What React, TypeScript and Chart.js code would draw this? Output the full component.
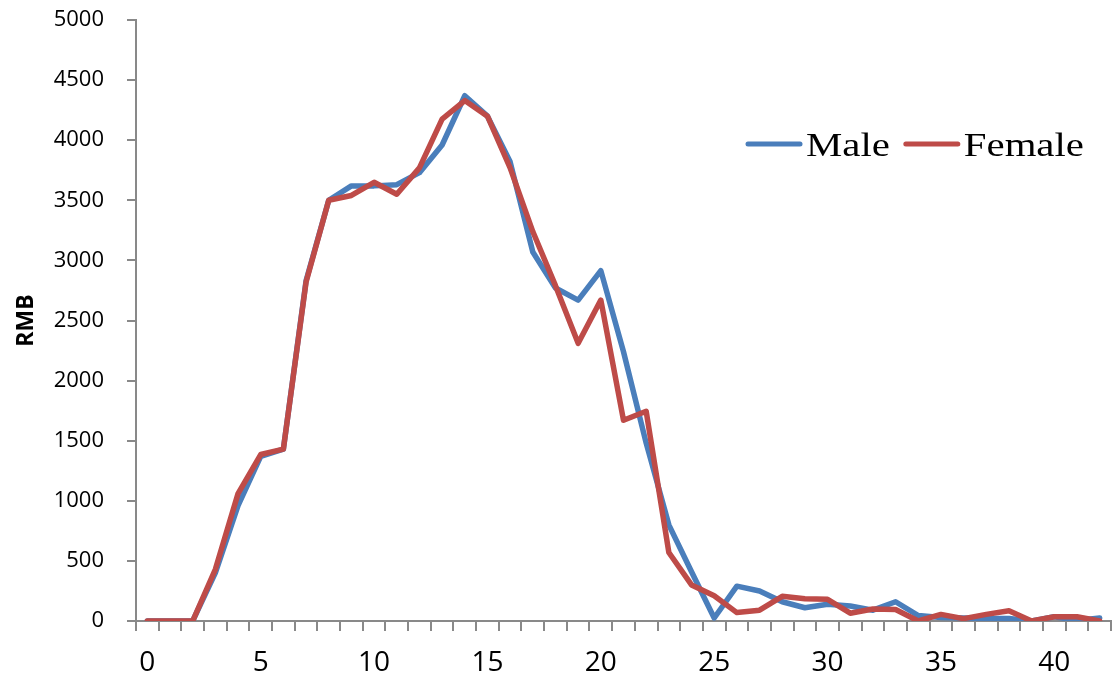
import React, { useEffect, useRef } from "react";
import { Chart, registerables } from "chart.js";

Chart.register(...registerables);

const ages = [
  "0", "1", "2", "3", "4", "5", "6", "7", "8", "9", "10",
  "11", "12", "13", "14", "15", "16", "17", "18", "19", "20",
  "21", "22", "23", "24", "25", "26", "27", "28", "29", "30",
  "31", "32", "33", "34", "35", "36", "37", "38", "39", "40",
  "41", "42",
];

const xTickLabels = ["0", "5", "10", "15", "20", "25", "30", "35", "40"];

const maleValues = [
  0, 0, 0, 400, 960, 1370, 1430, 2830, 3500, 3620, 3620,
  3630, 3730, 3960, 4370, 4200, 3820, 3070, 2770, 2670, 2915,
  2240, 1480, 800, 410, 25, 290, 250, 160, 110, 140,
  125, 90, 160, 45, 30, 25, 20, 20, 0, 35,
  5, 25,
];

const femaleValues = [
  0, 0, 0, 430, 1060, 1385, 1430, 2820, 3500, 3540, 3650,
  3550, 3770, 4175, 4330, 4200, 3770, 3240, 2790, 2310, 2670,
  1670, 1745, 570, 300, 210, 70, 90, 205, 185, 180,
  65, 100, 95, 0, 55, 20, 55, 85, 0, 35,
  35, 0,
];

const seriesNames = ["Male", "Female"];
const seriesColors = ["#4A7EBB", "#BE4B48"];

const axisColor = "#898989";

const insideLegend = {
  id: "insideLegend",
  afterDraw(chart: any) {
    const ctx = chart.ctx as CanvasRenderingContext2D;
    const area = chart.chartArea;
    const lineLen = 52;
    const stretch = 1.2;
    let x = area.right - 363;
    const lineY = area.top + 124;
    const textY = area.top + 136;
    ctx.save();
    ctx.font = "34px 'Liberation Serif', 'Times New Roman', serif";
    ctx.textBaseline = "alphabetic";
    ctx.textAlign = "left";
    chart.data.datasets.forEach((ds: any) => {
      ctx.strokeStyle = ds.borderColor;
      ctx.lineWidth = 5;
      ctx.lineCap = "round";
      ctx.beginPath();
      ctx.moveTo(x, lineY);
      ctx.lineTo(x + lineLen, lineY);
      ctx.stroke();
      x += lineLen + 6;
      const w = ctx.measureText(ds.label).width * stretch;
      ctx.save();
      ctx.translate(x, textY);
      ctx.scale(stretch, 1);
      ctx.fillStyle = "#000";
      ctx.fillText(ds.label, 0, 0);
      ctx.restore();
      x += w + 16;
    });
    ctx.restore();
  },
};

export default function App() {
  const canvasRef = useRef<HTMLCanvasElement | null>(null);

  useEffect(() => {
    if (!canvasRef.current) return;
    const chart = new Chart(canvasRef.current, {
      type: "line",
      data: {
        labels: ages,
        datasets: [
          {
            label: seriesNames[0],
            data: maleValues,
            borderColor: seriesColors[0],
            backgroundColor: seriesColors[0],
            borderWidth: 5.5,
            pointRadius: 0,
            tension: 0,
            borderJoinStyle: "round",
            borderCapStyle: "round",
            order: 1,
          },
          {
            label: seriesNames[1],
            data: femaleValues,
            borderColor: seriesColors[1],
            backgroundColor: seriesColors[1],
            borderWidth: 5.5,
            pointRadius: 0,
            tension: 0,
            borderJoinStyle: "round",
            borderCapStyle: "round",
            order: 0,
          },
        ],
      },
      options: {
        animation: false,
        responsive: true,
        maintainAspectRatio: false,
        layout: { padding: { left: 0, right: 4, top: 20, bottom: 0 } },
        plugins: {
          legend: { display: false },
          tooltip: { enabled: false },
        },
        scales: {
          x: {
            type: "category",
            offset: true,
            grid: {
              display: true,
              drawOnChartArea: false,
              drawTicks: true,
              tickLength: 10,
              offset: true,
              color: axisColor,
              lineWidth: 2,
            },
            border: { display: true, color: axisColor, width: 2 },
            ticks: {
              autoSkip: false,
              maxRotation: 0,
              minRotation: 0,
              padding: 15,
              color: "#000",
              font: { family: "'Open Sans', sans-serif", size: 28 },
              callback: (_value: any, index: number) =>
                xTickLabels.includes(ages[index]) ? ages[index] : "",
            },
            afterFit: (scale: any) => {
              scale.height = 54;
            },
          },
          y: {
            min: 0,
            max: 5000,
            ticks: {
              stepSize: 500,
              padding: 23,
              color: "#000",
              font: { family: "'Open Sans', sans-serif", size: 22 },
              callback: (value: any) => String(value),
            },
            grid: {
              display: true,
              drawOnChartArea: false,
              drawTicks: true,
              tickLength: 9,
              color: axisColor,
              lineWidth: 2,
            },
            border: { display: true, color: axisColor, width: 2 },
            title: {
              display: true,
              text: "RMB",
              color: "#000",
              font: { family: "'Open Sans', sans-serif", size: 23, weight: "bold" },
              padding: { top: 13, bottom: 0 },
            },
            afterFit: (scale: any) => {
              scale.width = 136;
              scale.paddingTop = 12;
              scale.paddingBottom = 12;
            },
          },
        },
      },
      plugins: [insideLegend],
    });
    return () => chart.destroy();
  }, []);

  return (
    <div style={{ position: "fixed", left: 0, top: 0, width: 1115, height: 675, background: "#fff" }}>
      <canvas ref={canvasRef} />
    </div>
  );
}
